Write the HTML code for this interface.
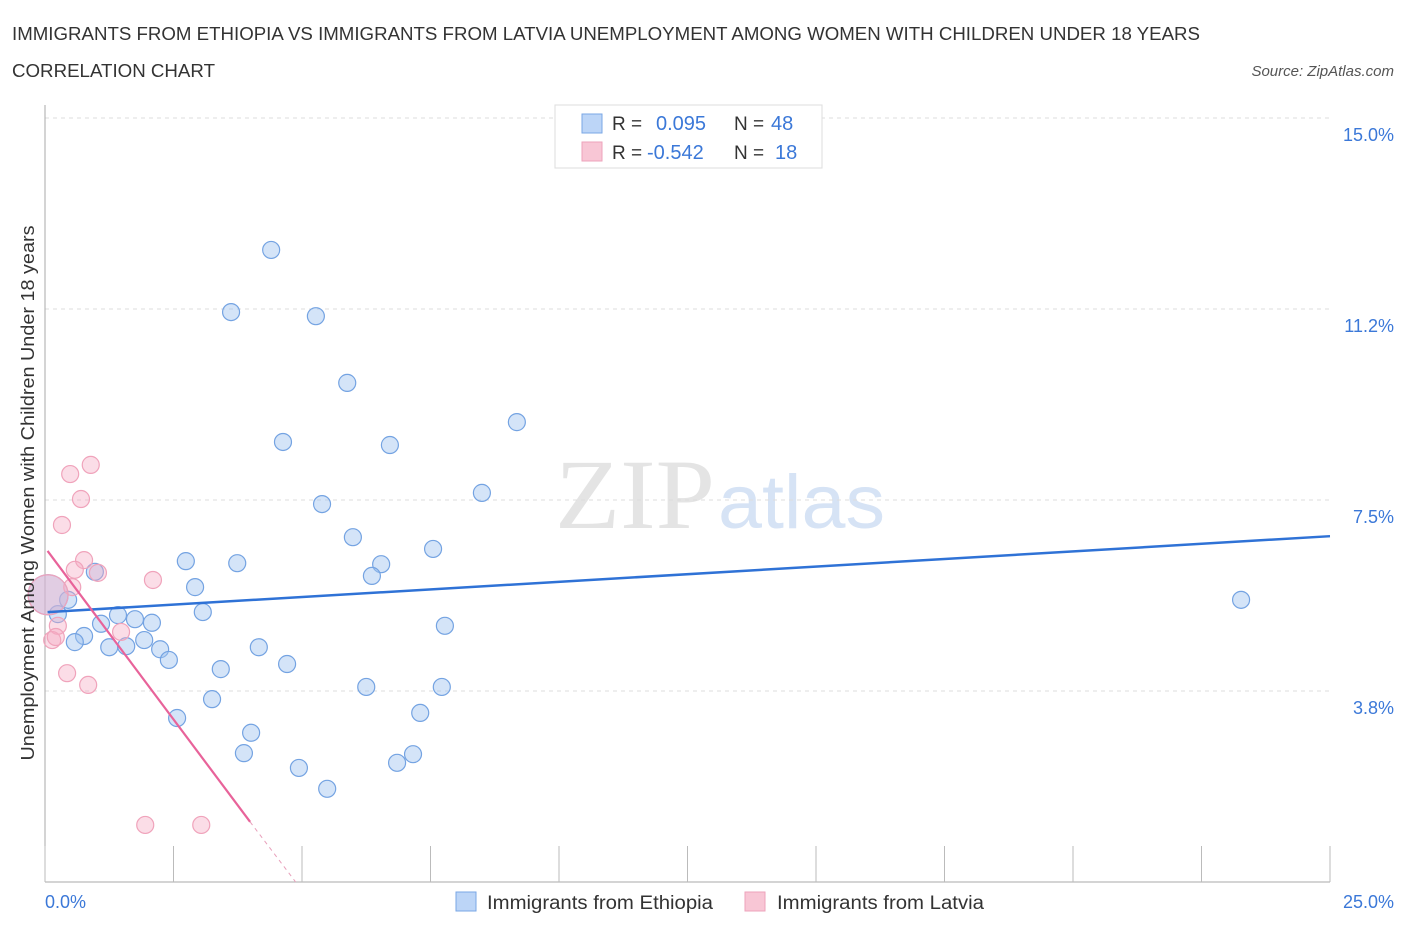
<!DOCTYPE html>
<html><head><meta charset="utf-8"><style>
body{margin:0;background:#fff;font-family:"Liberation Sans",sans-serif}
svg text{font-family:"Liberation Sans",sans-serif}
</style></head><body>
<svg id="c" width="1406" height="930">
<text x="12" y="40" font-size="18" fill="#333" textLength="1188" lengthAdjust="spacingAndGlyphs">IMMIGRANTS FROM ETHIOPIA VS IMMIGRANTS FROM LATVIA UNEMPLOYMENT AMONG WOMEN WITH CHILDREN UNDER 18 YEARS</text>
<text x="12" y="77" font-size="18" fill="#333" textLength="203" lengthAdjust="spacingAndGlyphs">CORRELATION CHART</text>
<text x="1394" y="76" font-size="15" fill="#555" font-style="italic" text-anchor="end">Source: ZipAtlas.com</text>
<text x="555" y="528" font-size="100" fill="#e4e4e4" textLength="160" lengthAdjust="spacingAndGlyphs" style="font-family:'Liberation Serif',serif">ZIP</text>
<text x="718" y="528" font-size="76" fill="#d6e3f5" textLength="167" lengthAdjust="spacingAndGlyphs">atlas</text>
<g id="grid"></g><g id="pts"></g><g id="trend"></g>
<text transform="translate(34,493) rotate(-90)" font-size="18" fill="#333" text-anchor="middle" textLength="535" lengthAdjust="spacingAndGlyphs">Unemployment Among Women with Children Under 18 years</text>
<text x="45" y="908" font-size="18" fill="#3b78d8">0.0%</text>
<text x="1394" y="908" font-size="18" fill="#3b78d8" text-anchor="end">25.0%</text>
<g>
<rect x="555" y="105" width="267" height="63" fill="#fff" stroke="#ddd"/>
<rect x="582" y="114" width="20" height="19" fill="#bcd5f7" stroke="#7aa7e6"/>
<rect x="582" y="142" width="20" height="19" fill="#f8c6d5" stroke="#eea3bb"/>
<text x="612" y="130" font-size="19" fill="#333">R =</text><text x="656" y="130" font-size="20" fill="#3b78d8">0.095</text>
<text x="734" y="130" font-size="19" fill="#333">N =</text><text x="771" y="130" font-size="20" fill="#3b78d8">48</text>
<text x="612" y="159" font-size="19" fill="#333">R =</text><text x="647" y="159" font-size="20" fill="#3b78d8">-0.542</text>
<text x="734" y="159" font-size="19" fill="#333">N =</text><text x="775" y="159" font-size="20" fill="#3b78d8">18</text>
</g>
<g>
<rect x="456" y="892" width="20" height="19" fill="#bcd5f7" stroke="#7aa7e6"/>
<text x="487" y="909" font-size="19" fill="#333" textLength="226" lengthAdjust="spacingAndGlyphs">Immigrants from Ethiopia</text>
<rect x="745" y="892" width="20" height="19" fill="#f8c6d5" stroke="#eea3bb"/>
<text x="777" y="909" font-size="19" fill="#333" textLength="207" lengthAdjust="spacingAndGlyphs">Immigrants from Latvia</text>
</g>
</svg>
<script>
const yTicks=[3.75,7.5,11.25,15];
const yTickLabels=["3.8%","7.5%","11.2%","15.0%"];
const xTicks=[0,2.5,5,7.5,10,12.5,15,17.5,20,22.5,25];
const ethX=[4.40,3.62,5.27,5.88,9.18,4.63,6.71,8.50,5.39,5.99,7.55,2.74,3.74,6.54,6.36,0.97,2.92,0.45,23.27,3.07,1.42,1.75,2.08,1.09,7.78,0.25,0.76,0.58,1.93,1.25,1.58,2.24,2.41,4.16,4.71,3.42,6.25,7.72,3.25,7.30,2.57,4.01,3.87,7.16,6.85,4.94,5.49,0.06];
const ethY=[12.41,11.19,11.11,9.80,9.03,8.64,8.58,7.64,7.42,6.77,6.54,6.30,6.26,6.24,6.01,6.09,5.79,5.54,5.54,5.30,5.24,5.16,5.09,5.07,5.03,5.26,4.83,4.71,4.75,4.61,4.63,4.57,4.36,4.61,4.28,4.18,3.83,3.83,3.59,3.32,3.22,2.93,2.53,2.51,2.34,2.24,1.83,5.64];
const latX=[0.89,0.49,0.70,0.33,0.76,0.58,1.03,2.10,0.53,1.48,0.25,0.14,0.21,0.43,0.84,1.95,3.04,0.06];
const latY=[8.19,8.01,7.52,7.01,6.32,6.13,6.07,5.93,5.79,4.91,5.03,4.75,4.81,4.10,3.87,1.12,1.12,5.64];
const ethTrend=[5.30,6.79]; // y at x=0 and x=25
const latTrend=[6.50,-1.333]; // intercept, slope
const NS="http://www.w3.org/2000/svg";
const X=v=>45+v*51.4, Y=v=>882-v*50.93;
function mk(t,a,p){const e=document.createElementNS(NS,t);for(const k in a)e.setAttribute(k,a[k]);p.appendChild(e);return e;}
const g=document.getElementById('grid');
yTicks.forEach((v,i)=>{
 const l=mk('line',{x1:45,x2:1330,y1:Y(v),y2:Y(v),stroke:'#ddd','stroke-dasharray':'4,4'},g);
 
 
 const t=mk('text',{x:1394,y:Y(v)+23,'font-size':18,fill:'#3b78d8','text-anchor':'end'},g);
 t.textContent=yTickLabels[i];
 
 
});
const ax=mk('line',{x1:45,x2:1330,y1:882,y2:882,stroke:'#aaa'},g);


const ay=mk('line',{x1:45,x2:45,y1:105,y2:882,stroke:'#aaa'},g);


xTicks.forEach(v=>{
 const l=mk('line',{x1:X(v),x2:X(v),y1:846,y2:882,stroke:'#bbb'},g);
 
 
});
const p=document.getElementById('pts');
function pts(xs,ys,fill,stroke,name){
 xs.forEach((x,i)=>{
  const big=(i===xs.length-1);
  const c=mk('circle',{cx:X(x),cy:Y(ys[i]),r:big?20:8.5,fill:fill,stroke:stroke,'stroke-width':1.2},p);
  
  
 });
}
pts(ethX,ethY,'rgba(160,195,240,0.45)','#74a3e2','ethiopia-point');
pts(latX,latY,'rgba(245,170,195,0.4)','#f0a3bb','latvia-point');
const tr=document.getElementById('trend');
const bl=mk('line',{x1:X(0.05),y1:Y(ethTrend[0]),x2:X(25),y2:Y(ethTrend[1]),stroke:'#2f72d6','stroke-width':2.5},tr);


const xe=3.99, x0=-latTrend[0]/latTrend[1];
const pl=mk('line',{x1:X(0.05),y1:Y(latTrend[0]),x2:X(xe),y2:Y(latTrend[0]+latTrend[1]*xe),stroke:'#e8639a','stroke-width':2.2},tr);


const pd=mk('line',{x1:X(xe),y1:Y(latTrend[0]+latTrend[1]*xe),x2:X(x0),y2:Y(0),stroke:'#e8a0bb','stroke-width':1,'stroke-dasharray':'4,4'},tr);


</script>
</body></html>
